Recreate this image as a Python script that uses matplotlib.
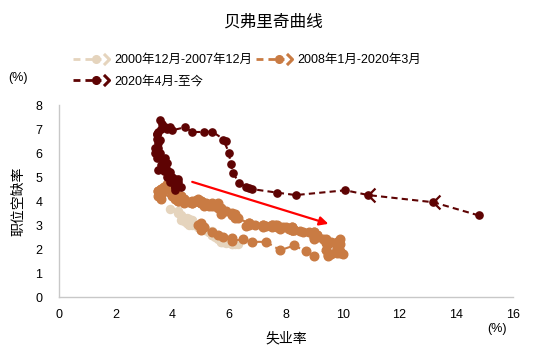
import matplotlib
matplotlib.use("Agg")
import matplotlib.pyplot as plt
from matplotlib.lines import Line2D
from matplotlib.legend_handler import HandlerBase

plt.rcParams['font.family'] = ['Liberation Sans', 'Noto Sans CJK SC', 'DejaVu Sans']

labels = ["2000年12月-2007年12月", "2008年1月-2020年3月", "2020年4月-至今"]
colors = ["#E5D4BD", "#C97B43", "#5E0303"]

# 2000-12 ~ 2007-12
ue1 = [3.9,
       4.2, 4.2, 4.3, 4.4, 4.3, 4.5, 4.6, 4.9, 5.0, 5.3, 5.5, 5.7,
       5.7, 5.7, 5.7, 5.9, 5.8, 5.8, 5.8, 5.7, 5.7, 5.7, 5.9, 6.0,
       5.8, 5.9, 5.9, 6.0, 6.1, 6.3, 6.2, 6.1, 6.1, 6.0, 5.8, 5.7,
       5.7, 5.6, 5.8, 5.6, 5.6, 5.6, 5.5, 5.4, 5.4, 5.5, 5.4, 5.4,
       5.3, 5.4, 5.2, 5.2, 5.1, 5.0, 5.0, 4.9, 5.0, 5.0, 5.0, 4.9,
       4.7, 4.8, 4.7, 4.7, 4.6, 4.6, 4.7, 4.7, 4.5, 4.4, 4.5, 4.4,
       4.6, 4.5, 4.4, 4.5, 4.4, 4.6, 4.7, 4.6, 4.7, 4.7, 4.7, 5.0]
jv1 = [3.65,
       3.6, 3.5, 3.4, 3.3, 3.2, 3.1, 3.0, 2.9, 2.8, 2.7, 2.6, 2.5,
       2.5, 2.5, 2.4, 2.4, 2.4, 2.4, 2.4, 2.3, 2.4, 2.4, 2.3, 2.3,
       2.35, 2.3, 2.25, 2.3, 2.2, 2.2, 2.2, 2.3, 2.2, 2.3, 2.3, 2.3,
       2.4, 2.4, 2.4, 2.5, 2.5, 2.5, 2.5, 2.6, 2.6, 2.6, 2.6, 2.7,
       2.7, 2.75, 2.8, 2.8, 2.8, 2.85, 2.9, 2.9, 2.9, 2.95, 3.0, 3.0,
       3.0, 3.0, 3.05, 3.1, 3.15, 3.1, 3.15, 3.1, 3.1, 3.15, 3.2, 3.2,
       3.2, 3.25, 3.2, 3.3, 3.3, 3.25, 3.2, 3.2, 3.15, 3.1, 3.1, 3.0]

# 2008-01 ~ 2020-03
ue2 = [5.0, 4.9, 5.1, 5.0, 5.4, 5.6, 5.8, 6.1, 6.1, 6.5, 6.8, 7.3,
       7.8, 8.3, 8.7, 9.0, 9.4, 9.5, 9.5, 9.6, 9.8, 10.0, 9.9, 9.9,
       9.8, 9.8, 9.9, 9.9, 9.6, 9.4, 9.4, 9.5, 9.5, 9.4, 9.8, 9.3,
       9.1, 9.0, 9.0, 9.1, 9.0, 9.1, 9.0, 9.0, 9.0, 8.8, 8.6, 8.5,
       8.3, 8.3, 8.2, 8.2, 8.2, 8.2, 8.2, 8.1, 7.8, 7.8, 7.7, 7.9,
       8.0, 7.7, 7.5, 7.6, 7.5, 7.5, 7.3, 7.2, 7.2, 7.2, 6.9, 6.7,
       6.6, 6.7, 6.7, 6.2, 6.3, 6.1, 6.2, 6.1, 5.9, 5.7, 5.8, 5.6,
       5.7, 5.5, 5.4, 5.4, 5.6, 5.3, 5.2, 5.1, 5.0, 5.0, 5.1, 5.0,
       4.8, 4.9, 5.0, 5.1, 4.8, 4.9, 4.8, 4.9, 5.0, 4.9, 4.7, 4.7,
       4.7, 4.6, 4.4, 4.4, 4.4, 4.3, 4.3, 4.4, 4.3, 4.2, 4.2, 4.1,
       4.0, 4.1, 4.0, 4.0, 3.8, 4.0, 3.8, 3.8, 3.7, 3.8, 3.8, 3.9,
       4.0, 3.8, 3.8, 3.7, 3.6, 3.6, 3.7, 3.6, 3.5, 3.6, 3.6, 3.6,
       3.5, 3.5, 4.4]
jv2 = [3.1, 3.0, 2.9, 2.8, 2.7, 2.6, 2.5, 2.45, 2.35, 2.4, 2.3, 2.3,
       1.95, 2.15, 1.9, 1.7, 1.95, 1.7, 1.75, 1.8, 1.85, 1.8, 1.85, 1.9,
       2.0, 2.0, 2.2, 2.4, 2.3, 2.25, 2.3, 2.2, 2.3, 2.4, 2.3, 2.4,
       2.5, 2.4, 2.5, 2.6, 2.5, 2.6, 2.7, 2.6, 2.7, 2.7, 2.7, 2.75,
       2.8, 2.8, 2.9, 2.8, 2.9, 2.8, 2.8, 2.85, 2.9, 2.85, 2.9, 2.9,
       2.9, 3.0, 2.9, 3.0, 3.0, 3.0, 2.95, 3.0, 3.0, 2.9, 3.0, 3.0,
       2.95, 3.1, 3.1, 3.3, 3.3, 3.4, 3.45, 3.5, 3.6, 3.45, 3.6, 3.7,
       3.7, 3.8, 3.8, 3.9, 3.9, 3.8, 3.9, 3.9, 4.0, 3.9, 3.8, 3.9,
       4.0, 4.1, 4.0, 3.9, 4.0, 4.0, 4.0, 4.0, 3.9, 4.0, 3.9, 3.9,
       4.0, 3.95, 4.0, 4.0, 4.1, 4.2, 4.1, 4.1, 4.2, 4.0, 4.0, 4.1,
       4.2, 4.4, 4.3, 4.4, 4.5, 4.5, 4.6, 4.6, 4.6, 4.7, 4.5, 4.7,
       4.7, 4.5, 4.6, 4.6, 4.5, 4.5, 4.5, 4.4, 4.4, 4.3, 4.3, 4.1,
       4.2, 4.4, 3.9]

# 2020-04 ~ latest
ue3 = [14.8, 13.2, 10.9, 10.1, 8.35, 7.7, 6.8, 6.7, 6.6, 6.35, 6.15, 6.05,
       6.0, 5.8, 5.9, 5.4, 5.1, 4.7, 4.45, 4.0, 3.75, 3.9, 3.8, 3.55,
       3.65, 3.6, 3.5, 3.45, 3.5, 3.45, 3.5, 3.55, 3.45, 3.4, 3.55, 3.45,
       3.4, 3.55, 3.6, 3.5, 3.75, 3.8, 3.8, 3.7, 3.7, 3.7, 3.9, 3.8,
       3.9, 4.0, 4.1, 4.3, 4.2, 4.1, 4.1, 4.2, 4.1]
jv3 = [3.4, 3.95, 4.25, 4.45, 4.25, 4.35, 4.5, 4.55, 4.6, 4.75, 5.15, 5.55,
       6.0, 6.55, 6.5, 6.9, 6.88, 6.88, 7.08, 6.95, 7.08, 7.1, 7.0, 7.38,
       7.2, 7.0, 6.9, 6.8, 6.4, 6.6, 6.2, 6.55, 6.8, 6.2, 6.0, 5.8,
       6.0, 5.8, 5.5, 5.3, 5.8, 5.6, 5.3, 5.3, 5.4, 5.25, 5.2, 5.0,
       4.8, 5.0, 4.9, 4.6, 4.9, 4.6, 4.6, 4.8, 4.45]

fig = plt.figure(figsize=(5.45, 3.6), dpi=100)
ax = fig.add_axes([0.108, 0.175, 0.833, 0.533])

series = [(ue1, jv1), (ue2, jv2), (ue3, jv3)]
msizes = [5.8, 6.2, 5.2]
for (x, y), c, ms in zip(series, colors, msizes):
    ax.plot(x, y, ls=(0, (3, 2)), lw=1.5, color=c, marker='o', ms=ms,
            mec=c, mfc=c)

# direction chevrons on the 2020 path
chev = [(1, 1), (0, 0), (1, -1)]
ax.plot(ue3[1:3], jv3[1:3], ls='none', marker=chev, ms=10, mfc='none',
        mec=colors[2], mew=1.6)

ax.annotate('', xy=(9.5, 3.05), xytext=(4.7, 4.8),
            arrowprops=dict(arrowstyle='-|>', color='#FF0000', lw=1.6,
                            mutation_scale=13, shrinkA=0, shrinkB=0))

ax.set_xlim(0, 16)
ax.set_ylim(0, 8)
ax.set_xticks(range(0, 17, 2))
ax.set_yticks(range(0, 9))
ax.tick_params(length=0, labelsize=9)
ax.tick_params(axis='x', pad=9)
ax.tick_params(axis='y', pad=12)
for s in ['top', 'right']:
    ax.spines[s].set_visible(False)
for s in ['left', 'bottom']:
    ax.spines[s].set_color('#C8C8C8')
    ax.spines[s].set_linewidth(1)

ax.set_xlabel("失业率", fontsize=10, labelpad=7)
ax.set_ylabel("职位空缺率", fontsize=10, labelpad=7)
fig.text(0.5, 0.94, "贝弗里奇曲线", ha='center', va='center', fontsize=12)
fig.text(0.033, 0.783, "(%)", ha='center', va='center', fontsize=9)
fig.text(0.912, 0.085, "(%)", ha='center', va='center', fontsize=9)


class ArrowLineHandler(HandlerBase):
    def create_artists(self, legend, orig, xd, yd, w, h, fontsize, trans):
        c = orig.get_color()
        x0 = -xd
        yc = -yd + h / 2
        ln = Line2D([x0, x0 + 0.78 * w], [yc, yc], ls=(0, (2.5, 1.8)), lw=2,
                    color=c)
        dot = Line2D([x0 + 0.62 * w], [yc], marker='o', ms=5.5, color=c,
                     ls='none')
        arr = Line2D([x0 + 0.98 * w], [yc], marker=[(-1, 1), (0, 0), (-1, -1)],
                     ms=8, mfc='none', mec=c, mew=2.2, ls='none')
        for a in (ln, dot, arr):
            a.set_transform(trans)
        return [ln, dot, arr]


handles = [Line2D([], [], color=c) for c in colors]
order = [0, 2, 1]
leg = fig.legend([handles[i] for i in order], [labels[i] for i in order],
                 handler_map={Line2D: ArrowLineHandler()},
                 loc='upper left', bbox_to_anchor=(0.134, 0.85), ncol=2,
                 frameon=False, fontsize=9, handlelength=2.9,
                 handletextpad=0.4, columnspacing=0.3, labelspacing=0.75,
                 borderpad=0, borderaxespad=0)

fig.savefig("out.png", dpi=100)
